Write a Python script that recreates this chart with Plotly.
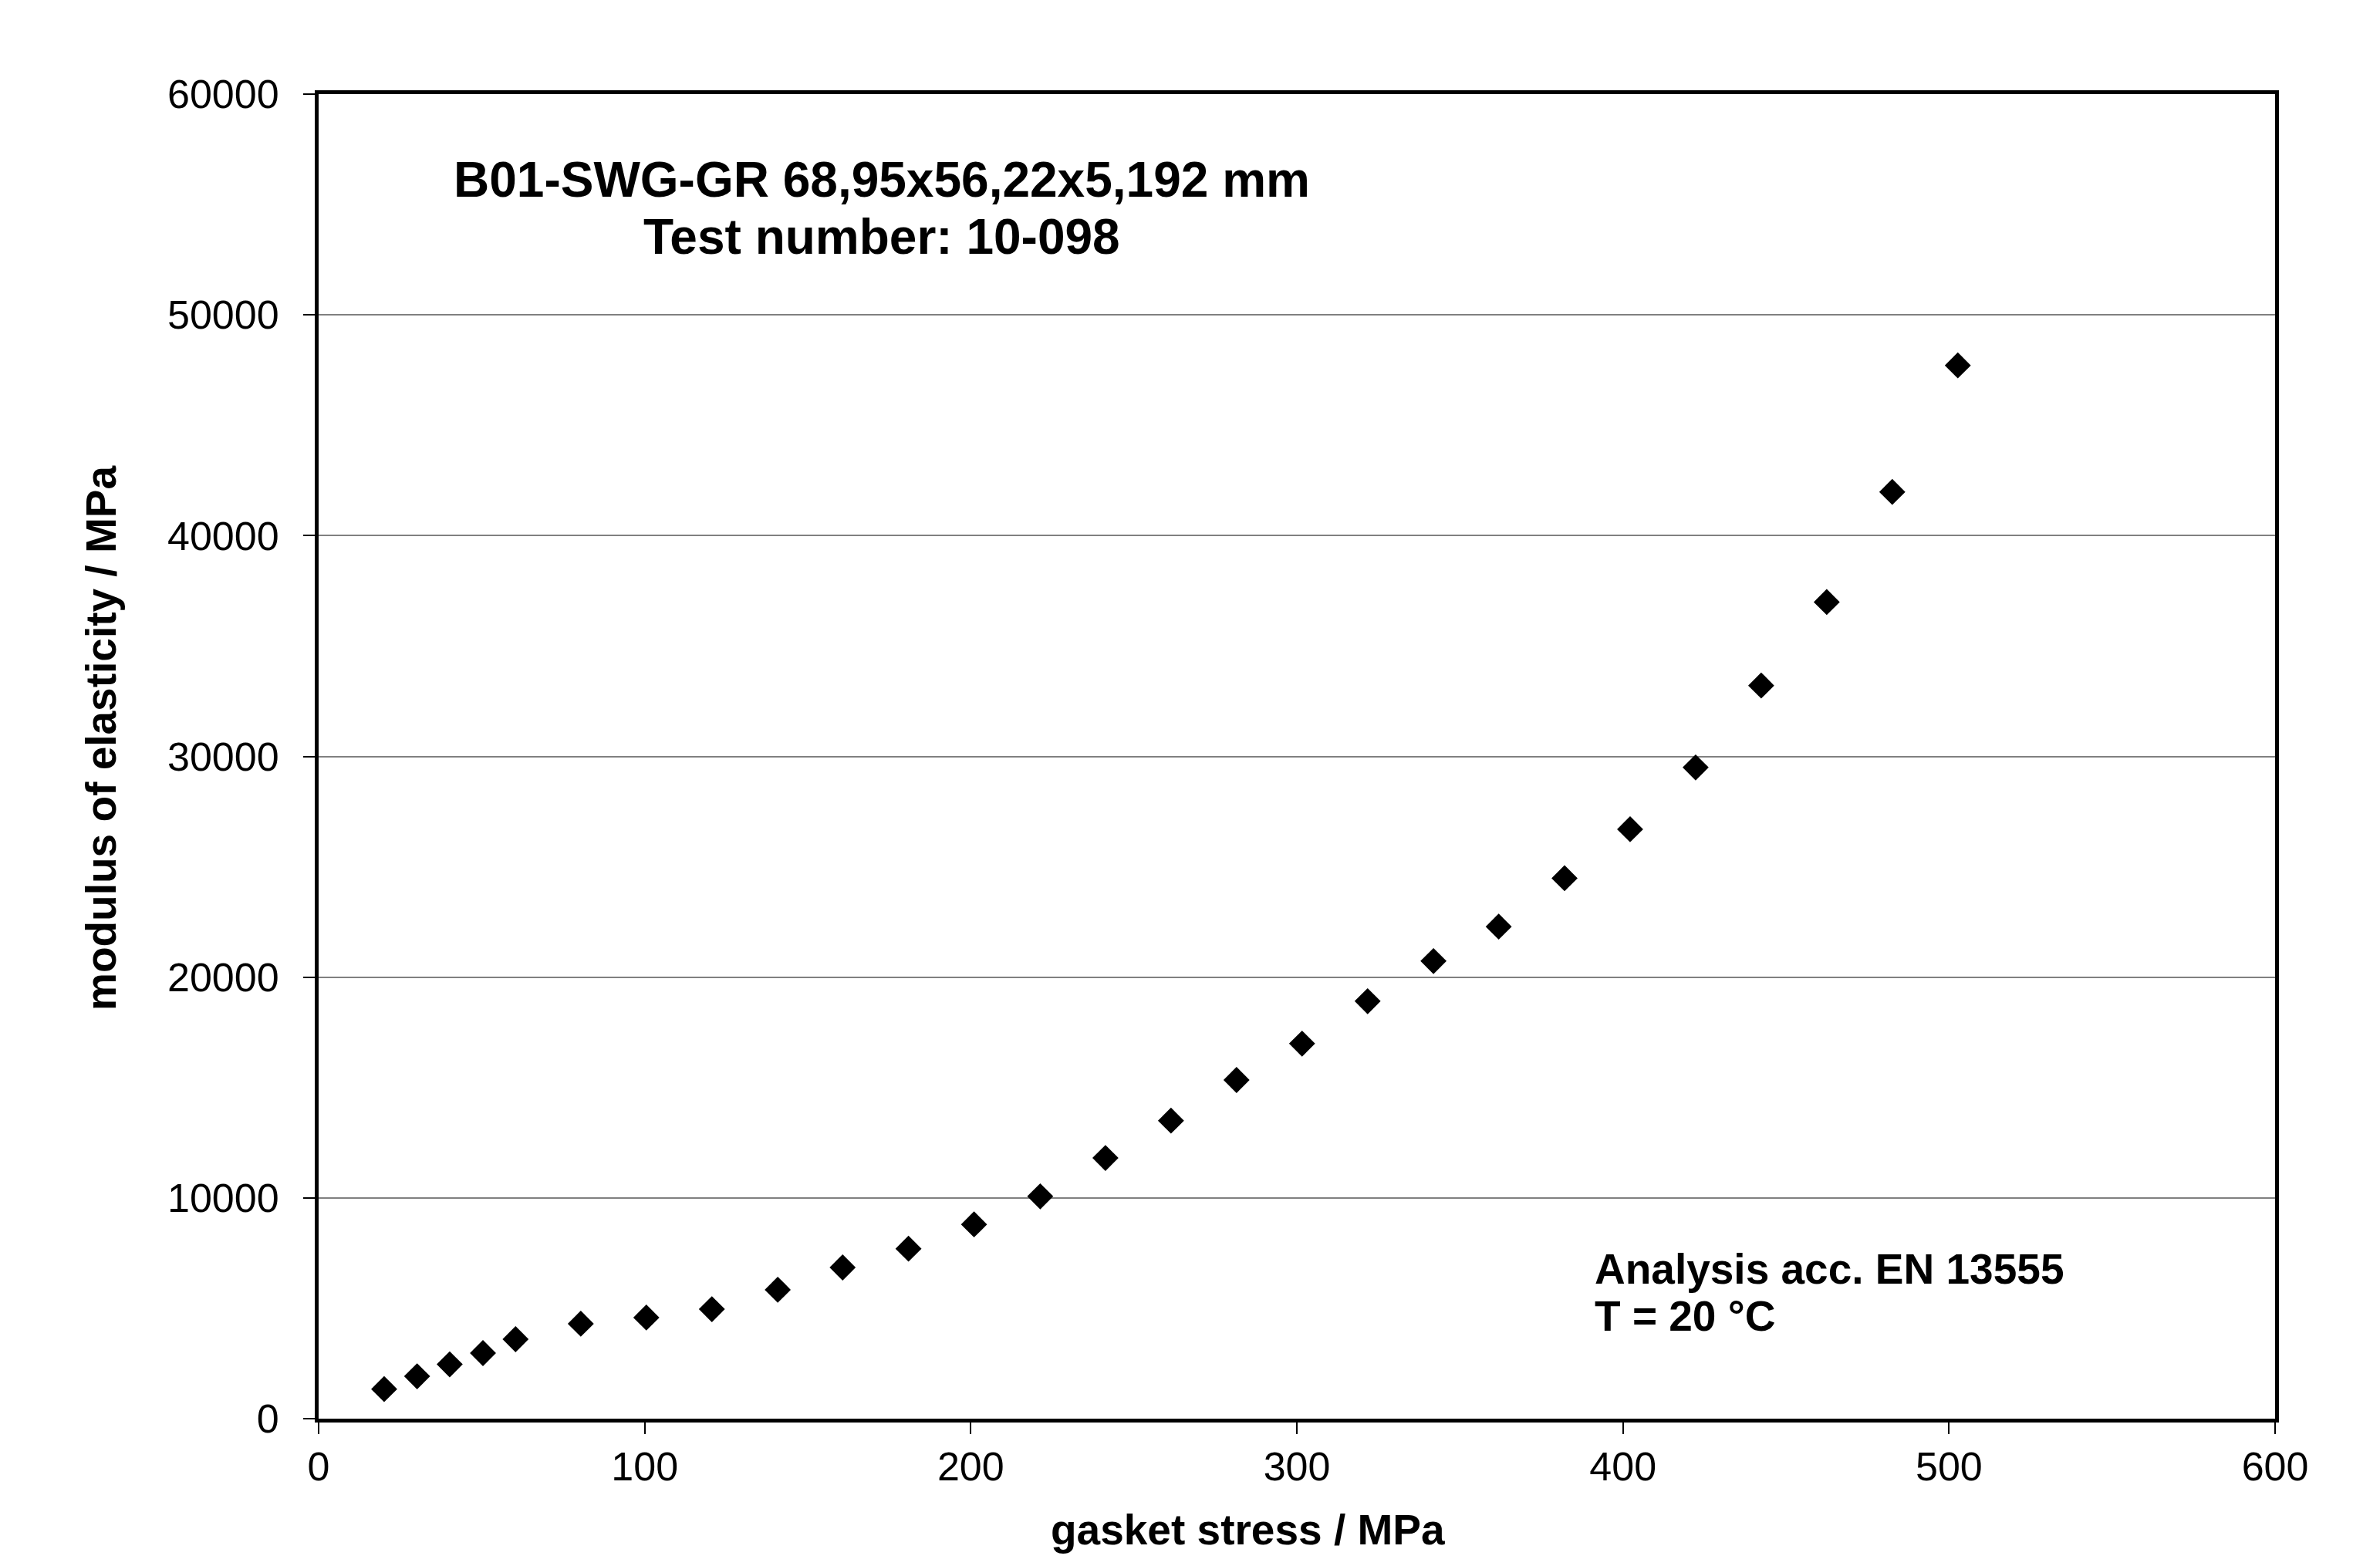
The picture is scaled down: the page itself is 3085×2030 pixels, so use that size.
import plotly.graph_objects as go

# gasket stress (MPa) and modulus of elasticity (MPa)
stress = [20.1, 30.2, 40.2, 50.4, 60.4, 80.4, 100.5, 120.6, 140.8, 160.7,
          180.9, 201.0, 221.3, 241.3, 261.4, 281.5, 301.6, 321.7, 341.9,
          361.9, 382.1, 402.2, 422.3, 442.4, 462.5, 482.6, 502.7]
modulus = [1340, 1920, 2460, 2970, 3600, 4300, 4580, 4960, 5840, 6850,
           7700, 8800, 10070, 11810, 13500, 15340, 16990, 18910, 20730,
           22290, 24480, 26700, 29500, 33210, 36990, 41980, 47710]

x_ticks = [0, 100, 200, 300, 400, 500, 600]
y_ticks = [0, 10000, 20000, 30000, 40000, 50000, 60000]

title_lines = ["B01-SWG-GR 68,95x56,22x5,192 mm", "Test number: 10-098"]
note_lines = ["Analysis acc. EN 13555", "T = 20 °C"]

FONT = "Liberation Sans, Arial, Helvetica, sans-serif"

fig = go.Figure(go.Scatter(
    x=stress, y=modulus, mode="markers",
    marker=dict(symbol="diamond", size=26, color="black", line=dict(width=0)),
    showlegend=False))

fig.update_layout(
    width=3085, height=2030,
    margin=dict(l=405, r=144, t=114, b=199),
    paper_bgcolor="white", plot_bgcolor="white",
    font=dict(family=FONT, color="black", size=52),
)

fig.update_xaxes(
    range=[0, 600], tickvals=x_ticks, tickformat="d",
    showgrid=False, zeroline=False,
    showline=True, linewidth=5, linecolor="black", mirror=True,
    ticks="outside", ticklen=15, tickwidth=2, tickcolor="black",
    tickfont=dict(size=52), ticklabelstandoff=-2,
)
fig.update_yaxes(
    range=[0, 60000], tickvals=y_ticks, tickformat="d",
    showgrid=True, gridcolor="#808080", gridwidth=2, zeroline=False,
    showline=True, linewidth=5, linecolor="black", mirror=True,
    ticks="outside", ticklen=15, tickwidth=2, tickcolor="black",
    tickfont=dict(size=52), ticklabelstandoff=21,
)

# axis titles sit a little off-centre in the original, so use annotations
fig.add_annotation(xref="paper", yref="paper", x=0, xshift=-282, y=0.5137,
                   text="modulus of elasticity / MPa", textangle=-90,
                   showarrow=False, xanchor="center", yanchor="middle",
                   font=dict(size=55, weight="bold"))
fig.add_annotation(xref="paper", yref="paper", x=0.4748, y=0, yshift=-144,
                   text="gasket stress / MPa",
                   showarrow=False, xanchor="center", yanchor="middle",
                   font=dict(size=55, weight="bold"))

for txt, yy in zip(title_lines, [0.9354, 0.8923]):
    fig.add_annotation(xref="paper", yref="paper", x=0.288, y=yy,
                       text=txt, showarrow=False, xanchor="center",
                       yanchor="middle",
                       font=dict(size=64, weight="bold"))

for txt, yy in zip(note_lines, [0.1127, 0.0775]):
    fig.add_annotation(xref="paper", yref="paper", x=0.6514, y=yy,
                       text=txt, showarrow=False, xanchor="left",
                       yanchor="middle", align="left",
                       font=dict(size=55, weight="bold"))

fig.write_html("out.html")
